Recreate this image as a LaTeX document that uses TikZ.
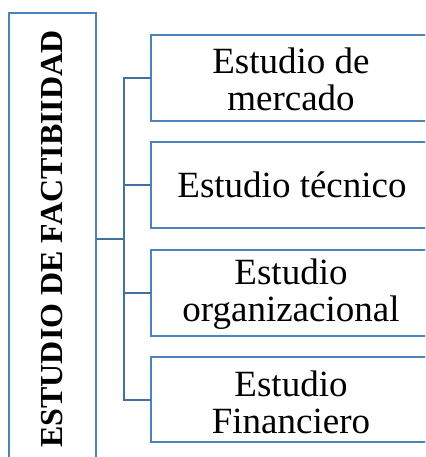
\documentclass[tikz,border=0pt]{standalone}
\usepackage{fontspec}
\setmainfont{Liberation Serif}
\definecolor{boxblue}{HTML}{4F81BD}
\definecolor{linkblue}{HTML}{41719C}
\begin{document}
\begin{tikzpicture}[x=1pt,y=-1pt,
  frame/.style={draw=boxblue,line width=2.2pt},
  link/.style={draw=linkblue,line width=2.2pt},
  lbl/.style={font=\fontsize{37}{37}\selectfont,align=center,inner sep=0pt}]
\useasboundingbox (0,0) rectangle (425,457);
\clip (0,0) rectangle (425,457);
% left box
\draw[frame] (9,480) -- (9,13) -- (96,13) -- (96,480);
\node[font=\fontsize{32}{34}\selectfont\bfseries,rotate=90,inner sep=0pt] (main) at (52.5,239) {ESTUDIO DE FACTIBIIDAD};
\coordinate (mr) at (96,239);
% right boxes
\draw[frame] (440,35) -- (151,35) -- (151,121) -- (440,121);
\draw[frame] (440,142) -- (151,142) -- (151,228) -- (440,228);
\draw[frame] (440,250) -- (151,250) -- (151,336) -- (440,336);
\draw[frame] (440,357) -- (151,357) -- (151,442) -- (440,442);
\coordinate (b1) at (151,78);
\coordinate (b2) at (151,185);
\coordinate (b3) at (151,293);
\coordinate (b4) at (151,400);
\node[lbl] (t1) at (291,79) {Estudio de\\mercado};
\node[lbl] (t2) at (292,185) {Estudio técnico};
\node[lbl] (t3) at (291,294) {Estudio\\organizacional};
\node[lbl] (t4) at (291,402) {Estudio\\Financiero};
% connectors
\coordinate (bus1) at (124,78);
\coordinate (bus4) at (124,400);
\draw[link] (mr) -- (124,239);
\draw[link] (b1) -- (bus1) -- (bus4) -- (b4);
\draw[link] (b2) -- (124,185);
\draw[link] (b3) -- (124,293);
\end{tikzpicture}
\end{document}
